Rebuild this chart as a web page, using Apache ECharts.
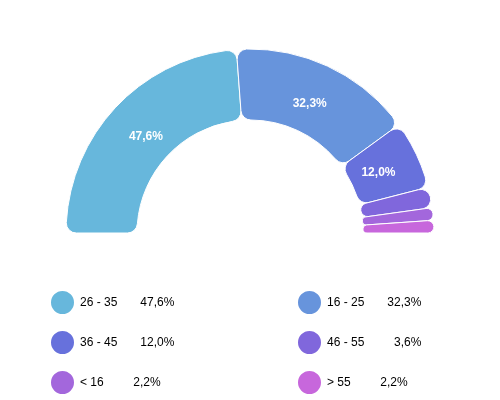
<!DOCTYPE html>
<html>
<head>
<meta charset="utf-8">
<script src="https://cdn.jsdelivr.net/npm/echarts@6/dist/echarts.min.js"></script>
<style>html,body{margin:0;padding:0;background:#fff;}#c{width:500px;height:400px;}</style>
</head>
<body>
<div id="c"></div>
<script>
const categories = ['26 - 35', '16 - 25', '36 - 45', '46 - 55', '< 16', '> 55'];
const values = [47.6, 32.3, 12.0, 3.6, 2.2, 2.2];
const colors = ['#67b7dc', '#6794dc', '#6771dc', '#8067dc', '#a367dc', '#c767dc'];
const legendLeft = ['26 - 35', '36 - 45', '< 16'];
const legendRight = ['16 - 25', '46 - 55', '> 55'];

const fmt = v => v.toFixed(1).replace('.', ',') + '%';
const valueOf = name => values[categories.indexOf(name)];
const FONT = 'Arial, Liberation Sans, sans-serif';

const legendBase = {
  orient: 'vertical',
  top: 289,
  height: 120,
  padding: 0,
  itemWidth: 25,
  itemHeight: 25,
  itemGap: 13,
  icon: 'circle',
  selectedMode: false,
  formatter: name => '{n|' + name + '}{v|' + fmt(valueOf(name)) + '}',
  textStyle: {
    fontFamily: FONT,
    fontSize: 12,
    color: '#000',
    rich: {
      n: { fontSize: 12, lineHeight: 14, color: '#000', fontFamily: FONT },
      v: { fontSize: 12, lineHeight: 14, color: '#000', width: 57, align: 'right', fontFamily: FONT }
    }
  }
};

const chart = echarts.init(document.getElementById('c'));
chart.setOption({
  backgroundColor: '#fff',
  animation: false,
  color: colors,
  legend: [
    Object.assign({}, legendBase, { left: 49, data: legendLeft }),
    Object.assign({}, legendBase, { left: 296, data: legendRight })
  ],
  series: [{
    type: 'pie',
    center: [250, 233],
    radius: [113, 184],
    startAngle: 180,
    endAngle: 0,
    avoidLabelOverlap: false,
    itemStyle: { borderRadius: 10, borderColor: '#fff', borderWidth: 1 },
    label: { show: false },
    labelLine: { show: false },
    data: categories.map((c, i) => ({ name: c, value: values[i] }))
  }, {
    type: 'pie',
    z: 5,
    silent: true,
    center: [250, 233],
    radius: [113, 165],
    startAngle: 180,
    endAngle: 0,
    avoidLabelOverlap: false,
    itemStyle: { color: 'rgba(0,0,0,0)', borderWidth: 0 },
    label: {
      position: 'inside',
      color: '#fff',
      fontWeight: 'bold',
      fontSize: 12,
      fontFamily: FONT,
      formatter: p => fmt(p.value)
    },
    labelLine: { show: false },
    data: categories.map((c, i) => ({
      name: c,
      value: values[i],
      label: { show: values[i] >= 5 }
    }))
  }]
});
</script>
</body>
</html>
